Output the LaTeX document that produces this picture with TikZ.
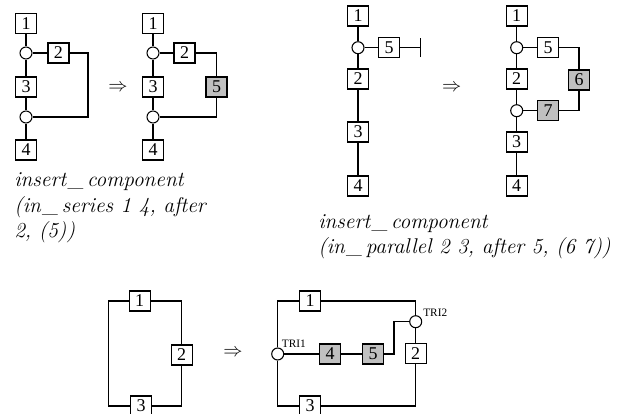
\documentclass[tikz,border=0pt]{standalone}
\usepackage{fontspec}
\newfontfamily\digitfont{Liberation Serif}
\definecolor{compgray}{RGB}{192,192,192}
\newcommand{\usc}{\kern1.5pt\_\kern2.5pt}
\tikzset{
  comp/.style={draw, line width=0.8pt, fill=white, inner sep=0pt,
    minimum width=15.75pt, minimum height=15pt,
    font=\digitfont\fontsize{13.5}{15}\selectfont},
  newcomp/.style={comp, fill=compgray},
  junc/.style={circle, draw, line width=0.8pt, fill=white, inner sep=0pt, minimum size=9pt},
  wire/.style={line width=0.8pt},
  caption/.style={anchor=base west, inner sep=0pt, font=\fontsize{16}{18.75}\selectfont\itshape},
  trilabel/.style={anchor=west, inner sep=0pt, font=\digitfont\fontsize{8.5}{10}\selectfont},
  yields/.style={inner sep=0pt, font=\fontsize{14}{16}\selectfont}
}
\begin{document}
\begin{tikzpicture}[x=0.75pt, y=-0.75pt]
\clip (0,0) rectangle (633,414);
\useasboundingbox (0,0) rectangle (633,414);

% ---------- in_series: before ----------
\node[comp] (a1) at (26,23.5) {1};
\node[junc] (c1) at (26,53) {};
\node[comp] (a2) at (58.5,53) {2};
\node[comp] (a3) at (26,87) {3};
\node[junc] (c2) at (26,117) {};
\node[comp] (a4) at (26,150) {4};
\coordinate (ak) at (88,117);
\draw[wire] (a1) -- (c1) -- (a3) -- (c2) -- (a4);
\draw[wire] (c1) -- (a2);
\draw[wire] (a2) -| (ak) -- (c2);

\node[yields] (y1) at (118,88) {$\Rightarrow$};

% ---------- in_series: after ----------
\node[comp] (b1) at (153,23.5) {1};
\node[junc] (d1) at (153,53) {};
\node[comp] (b2) at (184.5,53) {2};
\node[comp] (b3) at (153,87) {3};
\node[junc] (d2) at (153,117) {};
\node[comp] (b4) at (153,150) {4};
\node[newcomp] (b5) at (216.5,87) {5};
\draw[wire] (b1) -- (d1) -- (b3) -- (d2) -- (b4);
\draw[wire] (d1) -- (b2);
\draw[wire] (b2) -| (b5);
\draw[wire] (b5) |- (d2);

\node[caption] (t11) at (14,186.7) {insert\usc component};
\node[caption] (t12) at (14,212) {(in\usc series 1 4, after};
\node[caption] (t13) at (14,237) {2, (5))};

% ---------- in_parallel: before ----------
\node[comp] (e1) at (358,16) {1};
\node[junc] (f1) at (358,47.7) {};
\node[comp] (e5) at (389,47.7) {5};
\node[comp] (e2) at (358,79) {2};
\node[comp] (e3) at (358,132) {3};
\node[comp] (e4) at (358,186) {4};
\coordinate (tend) at (420.7,47.7);
\draw[wire] (e1) -- (f1) -- (e2) -- (e3) -- (e4);
\draw[wire] (f1) -- (e5) -- (tend);
\draw[wire] ([yshift=-7pt]tend) -- ([yshift=7pt]tend);

\node[yields] (y2) at (451.7,88) {$\Rightarrow$};

% ---------- in_parallel: after ----------
\node[comp] (g1) at (516.7,16) {1};
\node[junc] (h1) at (516.7,47.7) {};
\node[comp] (g5) at (548,47.7) {5};
\node[comp] (g2) at (516.7,79) {2};
\node[junc] (h2) at (516.7,110.7) {};
\node[newcomp] (g6) at (579,80) {6};
\node[newcomp] (g7) at (548,110.7) {7};
\node[comp] (g3) at (516.7,142) {3};
\node[comp] (g4) at (516.7,186) {4};
\draw[wire] (g1) -- (h1) -- (g2) -- (h2) -- (g3) -- (g4);
\draw[wire] (h1) -- (g5);
\draw[wire] (g5) -| (g6);
\draw[wire] (g6) |- (g7);
\draw[wire] (g7) -- (h2);

\node[caption] (t21) at (318,228.3) {insert\usc component};
\node[caption] (t22) at (318,253) {(in\usc parallel 2 3, after 5, (6 7))};

% ---------- loop: before ----------
\node[comp] (m1) at (139.7,301) {1};
\node[comp] (m2) at (181.7,355) {2};
\node[comp] (m3) at (141,406) {3};
\coordinate (mL) at (108.3,355);
\draw[wire] (m1) -| (m2);
\draw[wire] (m2) |- (m3);
\draw[wire] (m1) -| (mL) |- (m3);

\node[yields] (y3) at (233,353) {$\Rightarrow$};

% ---------- loop: after ----------
\node[comp] (n1) at (310,301) {1};
\node[comp] (n3) at (310,406) {3};
\node[junc] (tri1) at (277.7,354) {};
\node[junc] (tri2) at (415.7,321.7) {};
\node[comp] (n2) at (415.7,353.5) {2};
\node[newcomp] (n4) at (330,354) {4};
\node[newcomp] (n5) at (373,354) {5};
\coordinate (nj) at (394,321.7);
\draw[wire] (tri1) |- (n1);
\draw[wire] (n1) -| (tri2);
\draw[wire] (tri2) -- (n2);
\draw[wire] (n2) |- (n3);
\draw[wire] (n3) -| (tri1);
\draw[wire] (tri1) -- (n4) -- (n5);
\draw[wire] (n5) -| (nj) -- (tri2);
\node[trilabel] (l1) at (281.7,344) {TRI1};
\node[trilabel] (l2) at (423,313) {TRI2};
\end{tikzpicture}
\end{document}
